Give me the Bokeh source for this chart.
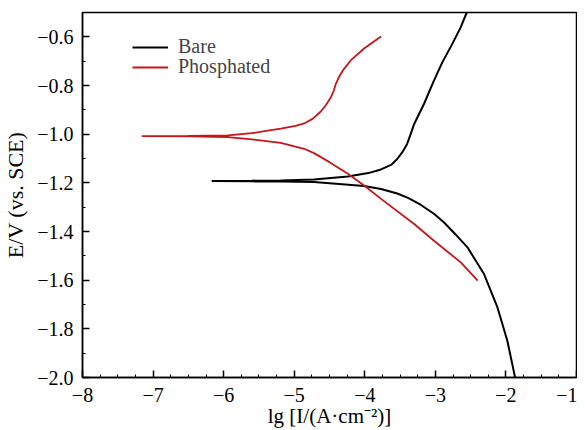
from bokeh.plotting import figure
from bokeh.models import (FixedTicker, CustomJSTickFormatter, Legend, LegendItem, Range1d)
from bokeh.embed import file_html
from bokeh.resources import INLINE
import numpy as np

# Bare sample: lg I (A/cm2) vs E (V vs SCE), ordered by potential
bare_lgi = [-1.87, -1.98, -2.12, -2.31, -2.545, -2.72, -2.88, -3.02, -3.21, -3.38,
            -3.54, -3.77, -4.01, -4.72, -5.19, -5.60, -6.17,
            -5.60, -5.19, -4.72, -4.24, -3.95, -3.77, -3.62, -3.54, -3.47, -3.40,
            -3.35, -3.30, -3.16, -3.02, -2.90, -2.76, -2.64, -2.555]
bare_e = [-2.00, -1.849, -1.712, -1.575, -1.465, -1.410, -1.362, -1.327, -1.290, -1.263,
          -1.244, -1.225, -1.213, -1.197, -1.195, -1.194, -1.192,
          -1.191, -1.190, -1.186, -1.174, -1.160, -1.145, -1.125, -1.102, -1.075, -1.040,
          -1.000, -0.958, -0.875, -0.780, -0.704, -0.629, -0.560, -0.500]

# Phosphated sample
phos_lgi = [-2.40, -2.64, -3.02, -3.30, -3.77, -4.01, -4.24, -4.50, -4.72, -4.86, -5.19,
            -5.60, -5.94, -6.50, -7.16,
            -6.50, -5.94, -5.60, -5.33, -5.19, -4.98, -4.86, -4.74, -4.62, -4.55, -4.48,
            -4.44, -4.41, -4.36, -4.31, -4.20, -4.01, -3.77]
phos_e = [-1.602, -1.527, -1.438, -1.369, -1.266, -1.211, -1.163, -1.115, -1.078, -1.060,
          -1.036, -1.021, -1.012, -1.009, -1.008,
          -1.007, -1.005, -0.996, -0.983, -0.977, -0.966, -0.956, -0.937, -0.906, -0.880,
          -0.848, -0.822, -0.793, -0.762, -0.738, -0.697, -0.648, -0.599]

x_ticks = [-8, -7, -6, -5, -4, -3, -2, -1]
y_ticks = [-2.0, -1.8, -1.6, -1.4, -1.2, -1.0, -0.8, -0.6]
series_names = ["Bare", "Phosphated"]
series_colors = ["#000000", "#c4161c"]
x_title = "lg [I/(A\u00b7cm\u207b\u00b2)]"
y_title = "E/V (vs. SCE)"

FONT = "Liberation Serif"

p = figure(width=577, height=430, output_backend="svg", toolbar_location=None,
           x_range=Range1d(-8, -1), y_range=Range1d(-2.0, -0.5),
           min_border_left=81, min_border_right=1, min_border_top=12,
           min_border_bottom=53)
p.xgrid.visible = False
p.ygrid.visible = False
p.outline_line_color = "black"
p.outline_line_width = 1.5
p.background_fill_color = "white"
p.border_fill_color = "white"

r_bare = p.line(bare_lgi, bare_e, line_color=series_colors[0], line_width=2)
r_phos = p.line(phos_lgi, phos_e, line_color=series_colors[1], line_width=1.8)

p.xaxis.ticker = FixedTicker(ticks=x_ticks,
                             minor_ticks=list(np.arange(-8, -0.99, 0.25)))
p.yaxis.ticker = FixedTicker(ticks=y_ticks,
                             minor_ticks=list(np.round(np.arange(-2.0, -0.49, 0.1), 2)))
p.xaxis.formatter = CustomJSTickFormatter(
    code="return tick.toFixed(0).replace('-', '\u2212');")
p.yaxis.formatter = CustomJSTickFormatter(
    code="return tick.toFixed(1).replace('-', '\u2212');")

for ax in (p.xaxis, p.yaxis):
    ax.major_label_text_font = FONT
    ax.major_label_text_font_size = "20px"
    ax.major_label_text_color = "black"
    ax.axis_line_width = 1.5
    ax.axis_line_color = "black"
    ax.major_tick_in = 7
    ax.major_tick_out = 0
    ax.minor_tick_in = 3
    ax.minor_tick_out = 0
    ax.major_tick_line_width = 1.5
    ax.minor_tick_line_width = 1
    ax.major_tick_line_color = "black"
    ax.minor_tick_line_color = "black"
    ax.axis_label_text_font = FONT
    ax.axis_label_text_font_style = "normal"
    ax.axis_label_text_color = "black"
p.xaxis.major_label_standoff = 10
p.yaxis.major_label_standoff = 9
p.xaxis.axis_label = x_title
p.yaxis.axis_label = y_title
p.xaxis.axis_label_text_font_size = "21px"
p.yaxis.axis_label_text_font_size = "22px"
p.xaxis.axis_label_standoff = -1
p.yaxis.axis_label_standoff = 6

legend_style = dict(label_text_font=FONT, label_text_font_size="20px",
                    glyph_width=36, glyph_height=20, label_height=20, spacing=0,
                    padding=0, margin=0, label_standoff=10, border_line_color=None,
                    background_fill_alpha=0)
legend_bare = Legend(items=[LegendItem(label=series_names[0], renderers=[r_bare])],
                     location=(50, 319), **legend_style)
legend_phos = Legend(items=[LegendItem(label=series_names[1], renderers=[r_phos])],
                     location=(50, 299), **legend_style)
p.add_layout(legend_bare)
p.add_layout(legend_phos)

open("out.html", "w").write(file_html(p, INLINE))
